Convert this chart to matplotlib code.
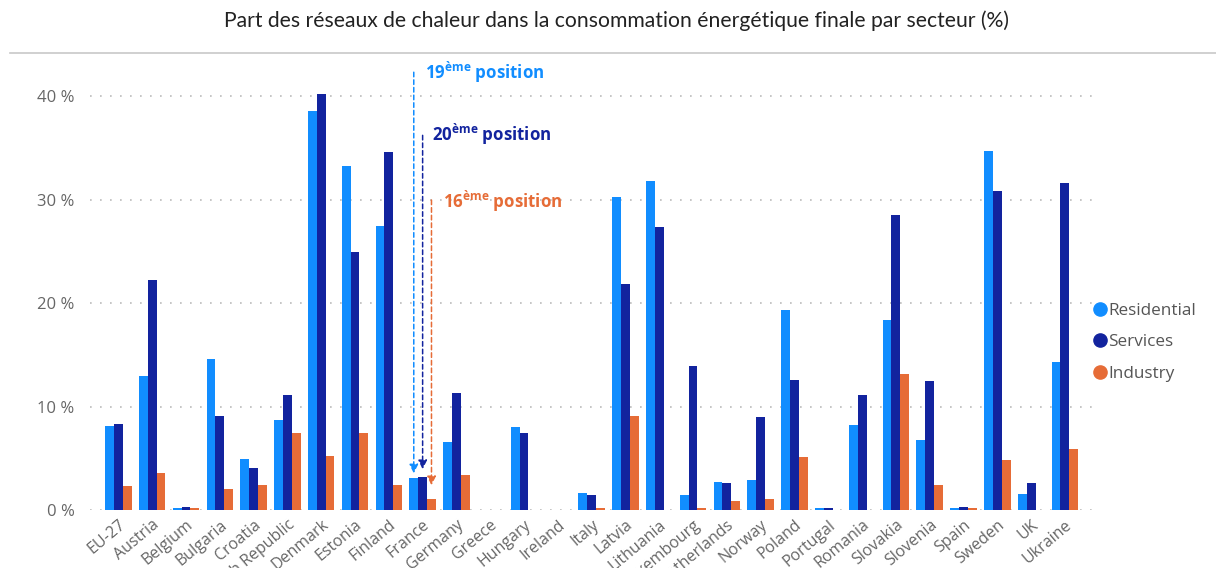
import matplotlib
matplotlib.use("Agg")
import matplotlib.pyplot as plt
from matplotlib.lines import Line2D
import numpy as np

countries = ["EU-27", "Austria", "Belgium", "Bulgaria", "Croatia", "Czech Republic",
             "Denmark", "Estonia", "Finland", "France", "Germany", "Greece", "Hungary",
             "Ireland", "Italy", "Latvia", "Lithuania", "Luxembourg", "Netherlands",
             "Norway", "Poland", "Portugal", "Romania", "Slovakia", "Slovenia", "Spain",
             "Sweden", "UK", "Ukraine"]
residential = [8.1, 12.9, 0.15, 14.6, 4.9, 8.7, 38.6, 33.2, 27.4, 3.05, 6.6, 0.0, 8.05,
               0.0, 1.65, 30.2, 31.8, 1.45, 2.7, 2.9, 19.3, 0.15, 8.2, 18.4, 6.8, 0.15,
               34.65, 1.5, 14.3]
services = [8.3, 22.2, 0.3, 9.1, 4.05, 11.15, 40.2, 24.9, 34.6, 3.15, 11.3, 0.0, 7.4,
            0.0, 1.45, 21.8, 27.3, 13.95, 2.6, 9.0, 12.6, 0.15, 11.1, 28.5, 12.5, 0.25,
            30.8, 2.65, 31.6]
industry = [2.35, 3.6, 0.15, 2.0, 2.4, 7.4, 5.25, 7.4, 2.4, 1.1, 3.4, 0.0, 0.0,
            0.0, 0.15, 9.1, 0.0, 0.15, 0.87, 1.1, 5.1, 0.0, 0.0, 13.1, 2.4, 0.15,
            4.8, 0.0, 5.9]
series_names = ["Residential", "Services", "Industry"]
colors = ["#118DFF", "#12239E", "#E66C37"]
yticks = [0, 10, 20, 30, 40]
ytick_labels = ["0 %", "10 %", "20 %", "30 %", "40 %"]
title = "Part des réseaux de chaleur dans la consommation énergétique finale par secteur (%)"

plt.rcParams['font.family'] = ['Open Sans', 'DejaVu Sans']
plt.rcParams['mathtext.fontset'] = 'custom'
plt.rcParams['mathtext.bf'] = 'Open Sans:bold'
plt.rcParams['mathtext.rm'] = 'Open Sans'

fig = plt.figure(figsize=(12.16, 5.68), dpi=100)
ax = fig.add_axes([0.0740, 0.1021, 0.824, 0.7653])

x = np.arange(len(countries))
w = 0.262
for i, (vals, c, name) in enumerate(zip([residential, services, industry], colors, series_names)):
    ax.bar(x + (i - 1) * w, vals, width=w, color=c, label=name, zorder=3)

ax.set_xlim(-0.84, 28.8)
ax.set_ylim(0, 42)
ax.set_yticks(yticks)
ax.set_yticklabels(ytick_labels)
ax.set_xticks(x)
ax.set_xticklabels(countries, rotation=40, ha='right', va='top', rotation_mode='anchor')
ax.tick_params(axis='both', length=0, colors='#666666', labelsize=11.5)
ax.tick_params(axis='y', labelsize=12, pad=11)
ax.tick_params(axis='x', pad=5)
for s in ax.spines.values():
    s.set_visible(False)
ax.yaxis.grid(True, linestyle=(0, (1, 5)), color='#BBBBBB', linewidth=1.2, zorder=0)

# title and separator
fig.text(0.507, 0.963, title, ha='center', va='center', fontsize=15.2, color='#222222',
         family=['Lato', 'DejaVu Sans'])
fig.add_artist(Line2D([0.008, 1.0], [0.907, 0.907], color='#C8C8C8', linewidth=1.2))

# annotations
ann = [
    (9 - w, 42.3, 3.55, colors[0], "19$^{\\mathbf{ème}}$ position", 9.07, 42.25),
    (9.0, 36.2, 3.95, colors[1], "20$^{\\mathbf{ème}}$ position", 9.29, 36.3),
    (9 + w, 29.95, 2.4, colors[2], "16$^{\\mathbf{ème}}$ position", 9.6, 29.8),
]
for xa, y0, y1, c, txt, tx, ty in ann:
    ax.annotate("", xy=(xa, y1), xytext=(xa, y0),
                arrowprops=dict(arrowstyle='-|>', color=c, linestyle=(0, (3, 2)),
                                linewidth=1.1, mutation_scale=13, shrinkA=0, shrinkB=0),
                annotation_clip=False, zorder=5)
    ax.text(tx, ty, txt, color=c, fontsize=12.2, fontweight='bold', ha='left', va='center',
            clip_on=False, zorder=6)

handles = [Line2D([0], [0], marker='o', linestyle='', markersize=9.5, markerfacecolor=c,
                  markeredgecolor=c) for c in colors]
ax.legend(handles, series_names, loc='center left', bbox_to_anchor=(0.993, 0.386), frameon=False,
          handlelength=0.6, handletextpad=0.15, labelspacing=0.9, fontsize=12.3,
          labelcolor='#555555', borderaxespad=0.2)

fig.savefig("out.png", dpi=100)
